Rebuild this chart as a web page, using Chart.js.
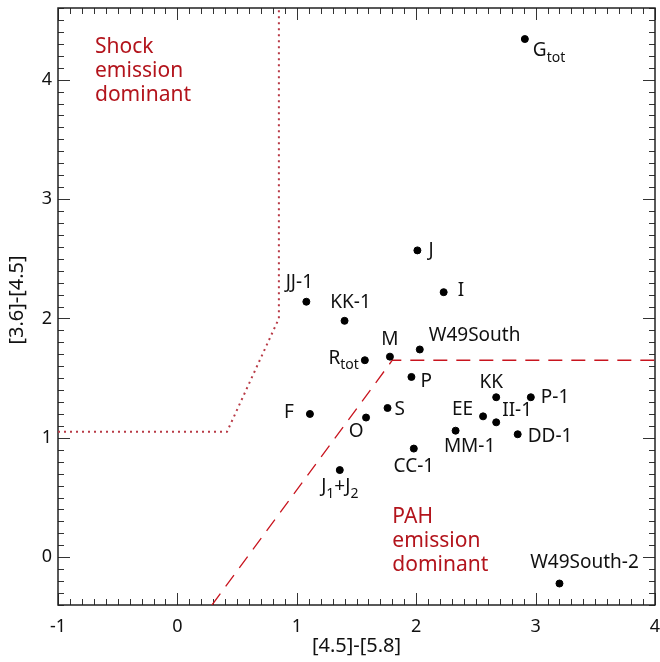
<!DOCTYPE html>
<html>
<head>
<meta charset="utf-8">
<title>[3.6]-[4.5] vs [4.5]-[5.8]</title>
<script src="https://cdn.jsdelivr.net/npm/chart.js@4/dist/chart.umd.min.js"></script>
<style>
  body { margin: 0; background: #fff; }
  canvas { display: block; }
</style>
</head>
<body>
<canvas id="chart" width="660" height="662"></canvas>
<script>
// source names, '_' marks a subscript
const names = ['G_tot', 'J', 'I', 'JJ-1', 'KK-1', 'R_tot', 'M', 'W49South', 'P', 'S', 'O', 'F',
  'CC-1', 'MM-1', 'EE', 'KK', 'II-1', 'P-1', 'DD-1', 'J_1+J_2', 'W49South-2'];
const color458 = [2.91, 2.01, 2.23, 1.08, 1.40, 1.57, 1.78, 2.03, 1.96, 1.76, 1.58, 1.11,
  1.98, 2.33, 2.56, 2.67, 2.67, 2.96, 2.85, 1.36, 3.20];
const color3645 = [4.34, 2.57, 2.22, 2.14, 1.98, 1.65, 1.68, 1.74, 1.51, 1.25, 1.17, 1.20,
  0.91, 1.06, 1.18, 1.34, 1.13, 1.34, 1.03, 0.73, -0.22];

// criteria boundaries
const shockX = [-1, 0.415, 0.85, 0.85];
const shockY = [1.05, 1.05, 2.0, 4.6];
const pahX = [0.29, 1.8, 4];
const pahY = [-0.4, 1.65, 1.65];

const xTicks = [-1, 0, 1, 2, 3, 4];
const yTicks = [0, 1, 2, 3, 4];

// label placement: [dx, dy, align]
const labelPos = [
  [8, 12, 'left'], [11, 0, 'left'], [14, -2, 'left'], [-7, -19, 'center'], [6, -18, 'center'],
  [-6, -2, 'right'], [0, -17, 'center'], [9, -14, 'left'], [9, 5, 'left'], [7, 2, 'left'],
  [-10, 14, 'center'], [-21, -1, 'center'], [0, 18, 'center'], [14, 16, 'center'],
  [-10, -7, 'right'], [-5, -15, 'center'], [6, -12, 'left'], [10, 0, 'left'], [10, 2, 'left'],
  [0, 17, 'center'], [25, -21, 'center']
];

const RED = '#b3141c';
const FONT = '"Noto Sans", sans-serif';

function richParts(s) {
  return s.split(/(_[A-Za-z0-9]+)/).filter(p => p.length).map(p =>
    p[0] === '_' ? { t: p.slice(1), sub: true } : { t: p, sub: false });
}

function drawRich(ctx, s, x, y, align) {
  const parts = richParts(s);
  const big = '19px ' + FONT, small = '14px ' + FONT;
  let w = 0;
  parts.forEach(p => {
    ctx.font = p.sub ? small : big;
    p.w = ctx.measureText(p.t).width;
    w += p.w;
  });
  let cx = align === 'left' ? x : align === 'right' ? x - w : x - w / 2;
  ctx.textAlign = 'left';
  ctx.textBaseline = 'middle';
  parts.forEach(p => {
    ctx.font = p.sub ? small : big;
    ctx.fillText(p.t, cx, p.sub ? y + 7 : y);
    cx += p.w;
  });
}

const framePlugin = {
  id: 'frame',
  beforeDatasetsDraw(chart) {
    const { ctx, chartArea: a, scales: { x, y } } = chart;
    ctx.save();
    ctx.strokeStyle = '#333';
    ctx.lineWidth = 1;
    ctx.beginPath();
    for (let i = -10; i <= 40; i++) {
      const px = Math.round(x.getPixelForValue(i / 10)) + 0.5;
      const len = i % 10 === 0 ? 12 : 6;
      ctx.moveTo(px, a.bottom); ctx.lineTo(px, a.bottom - len);
      ctx.moveTo(px, a.top); ctx.lineTo(px, a.top + len);
    }
    for (let i = -4; i <= 46; i++) {
      const py = Math.round(y.getPixelForValue(i / 10)) + 0.5;
      const len = i % 10 === 0 ? 12 : 6;
      ctx.moveTo(a.left, py); ctx.lineTo(a.left + len, py);
      ctx.moveTo(a.right, py); ctx.lineTo(a.right - len, py);
    }
    ctx.stroke();
    ctx.strokeStyle = '#222';
    ctx.lineWidth = 1.5;
    ctx.strokeRect(a.left, a.top, a.right - a.left, a.bottom - a.top);

    ctx.fillStyle = '#111';
    ctx.font = '18px ' + FONT;
    ctx.textAlign = 'center';
    ctx.textBaseline = 'middle';
    xTicks.forEach(v => ctx.fillText(String(v), x.getPixelForValue(v), a.bottom + 22));
    ctx.textAlign = 'right';
    yTicks.forEach(v => ctx.fillText(String(v), a.left - 6, y.getPixelForValue(v)));

    ctx.font = '20px ' + FONT;
    ctx.textAlign = 'center';
    ctx.fillText('[4.5]-[5.8]', (a.left + a.right) / 2, a.bottom + 41);
    ctx.save();
    ctx.translate(17, 300);
    ctx.rotate(-Math.PI / 2);
    ctx.fillText('[3.6]-[4.5]', 0, 0);
    ctx.restore();

    ctx.fillStyle = RED;
    ctx.font = '21px ' + FONT;
    ctx.textAlign = 'left';
    ['Shock', 'emission', 'dominant'].forEach((t, i) => ctx.fillText(t, a.left + 37, a.top + 39 + i * 24));
    ['PAH', 'emission', 'dominant'].forEach((t, i) => ctx.fillText(t, x.getPixelForValue(1.8), y.getPixelForValue(0.34) + i * 24));
    ctx.restore();
  },
  afterDatasetsDraw(chart) {
    const { ctx } = chart;
    const meta = chart.getDatasetMeta(0);
    ctx.save();
    ctx.fillStyle = '#111';
    meta.data.forEach((pt, i) => {
      const [dx, dy, align] = labelPos[i];
      drawRich(ctx, names[i], pt.x + dx, pt.y + dy, align);
    });
    ctx.restore();
  }
};

new Chart(document.getElementById('chart'), {
  type: 'scatter',
  data: {
    datasets: [
      {
        label: 'sources',
        data: color458.map((v, i) => ({ x: v, y: color3645[i] })),
        backgroundColor: '#000',
        borderColor: '#000',
        pointRadius: 3.5
      },
      {
        label: 'shock',
        data: shockX.map((v, i) => ({ x: v, y: shockY[i] })),
        showLine: true,
        borderColor: '#b83a46',
        borderWidth: 2,
        borderDash: [2, 4],
        pointRadius: 0
      },
      {
        label: 'PAH',
        data: pahX.map((v, i) => ({ x: v, y: pahY[i] })),
        showLine: true,
        borderColor: '#c8141e',
        borderWidth: 1.3,
        borderDash: [14, 9],
        pointRadius: 0
      }
    ]
  },
  options: {
    responsive: false,
    animation: false,
    layout: { padding: { left: 58, right: 5, top: 8, bottom: 57 } },
    plugins: { legend: { display: false }, tooltip: { enabled: false } },
    scales: {
      x: { type: 'linear', min: -1, max: 4, display: false },
      y: { type: 'linear', min: -0.4, max: 4.6, display: false }
    }
  },
  plugins: [framePlugin]
});
</script>
</body>
</html>
